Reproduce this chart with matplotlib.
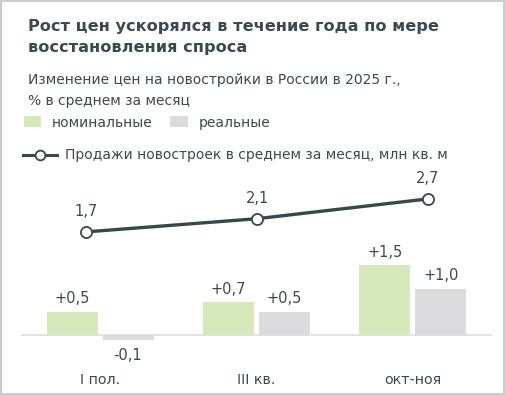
import numpy as np
import matplotlib.pyplot as plt
from matplotlib.patches import Rectangle
from matplotlib.lines import Line2D

categories = ["I пол.", "III кв.", "окт-ноя"]
nominal = [0.5, 0.7, 1.5]
real = [-0.1, 0.5, 1.0]
sales = [1.7, 2.1, 2.7]

title = "Рост цен ускорялся в течение года по мере\nвосстановления спроса"
subtitle = "Изменение цен на новостройки в России в 2025 г.,\n% в среднем за месяц"
leg_nom = "номинальные"
leg_real = "реальные"
leg_line = "Продажи новостроек в среднем за месяц, млн кв. м"

txt = "#3b4a50"
green = "#d5e9ba"
grey = "#dcdcde"
dark = "#37474a"

W, H = 506, 395
plt.rcParams['font.family'] = ['DejaVu Sans']
fig = plt.figure(figsize=(W / 100, H / 100), dpi=100)

def fx(px):
    return px / W

def fy(py):
    return 1 - py / H

# frame
fig.patches.append(Rectangle((fx(1), fy(394)), fx(503), (393) / H, transform=fig.transFigure,
                             fill=False, edgecolor="#cccccc", lw=1.5))

fig.text(fx(28), fy(19), title, fontsize=11.6, fontweight="bold", color=txt,
         va="top", ha="left", linespacing=1.5)
fig.text(fx(28), fy(73), subtitle, fontsize=10, color=txt, va="top", ha="left",
         linespacing=1.6)

# legend
fig.patches.append(Rectangle((fx(24), fy(127)), fx(17), 11 / H, transform=fig.transFigure,
                             facecolor=green, edgecolor="none"))
fig.text(fx(52), fy(123), leg_nom, fontsize=10, color=txt, va="center", ha="left")
fig.patches.append(Rectangle((fx(170), fy(127)), fx(18), 11 / H, transform=fig.transFigure,
                             facecolor=grey, edgecolor="none"))
fig.text(fx(199), fy(123), leg_real, fontsize=10, color=txt, va="center", ha="left")
fig.lines.append(Line2D([fx(23), fx(57)], [fy(155), fy(155)], transform=fig.transFigure,
                        color=dark, lw=2.2, marker=None))
fig.lines.append(Line2D([fx(40)], [fy(155)], transform=fig.transFigure, color=dark,
                        marker="o", ms=7, mfc="white", mew=1.3))
fig.text(fx(65), fy(155), leg_line, fontsize=10, color=txt, va="center", ha="left")

# bars
top_px, bot_px = 190, 360
ax = fig.add_axes([fx(21), fy(bot_px), fx(471), (bot_px - top_px) / H])
x = np.arange(len(categories))
bw, off = 0.326, 0.179
ax.bar(x - off, nominal, bw, color=green)
ax.bar(x + off, real, bw, color=grey)
ax.axhline(0, color="#dddddd", lw=1.2, zorder=0)
ax.set_xlim(-0.505, 2.505)
ax.set_ylim(-(bot_px - 335) / 46.5, (335 - top_px) / 46.5)
for i in range(len(categories)):
    for xv, v in ((x[i] - off, nominal[i]), (x[i] + off, real[i])):
        s = ("+" if v > 0 else "") + f"{v:.1f}".replace(".", ",")
        if v >= 0:
            ax.annotate(s, (xv, v), xytext=(0, 4), textcoords="offset points",
                        ha="center", va="bottom", fontsize=10.5, color=txt)
        else:
            ax.annotate(s, (xv, v), xytext=(0, -6), textcoords="offset points",
                        ha="center", va="top", fontsize=10.5, color=txt)
ax.set_xticks(x)
ax.set_xticklabels(categories, fontsize=10.3, color=txt)
ax.tick_params(axis="x", length=0, pad=9)
ax.set_yticks([])
for sp in ax.spines.values():
    sp.set_visible(False)
ax.patch.set_visible(False)

# line
ax2 = fig.add_axes([fx(21), fy(bot_px), fx(471), (bot_px - top_px) / H])
ax2.plot(x, sales, color=dark, lw=2.4, marker="o", ms=8, mfc="white", mec=dark, mew=1.3)
ax2.set_xlim(-0.38, 2.374)
ax2.set_ylim(-(bot_px - 288) / 33, (288 - top_px) / 33)
for i, v in enumerate(sales):
    ax2.annotate(f"{v:.1f}".replace(".", ","), (x[i], v), xytext=(0, 9), textcoords="offset points",
                 ha="center", va="bottom", fontsize=10.5, color=txt)
ax2.axis("off")

fig.savefig("out.png", dpi=100)
